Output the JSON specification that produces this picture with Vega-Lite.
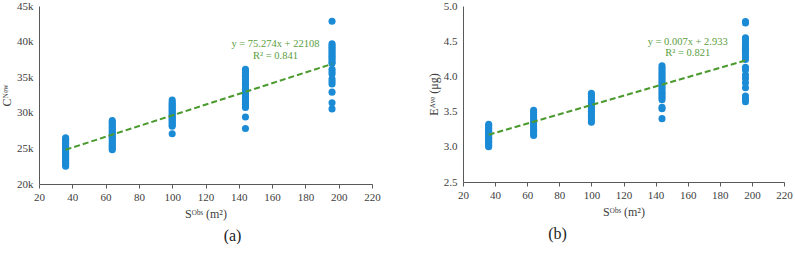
{
  "$schema": "https://vega.github.io/schema/vega-lite/v6.json",
  "padding": {"left": 0, "top": 0, "right": 0, "bottom": 0},
  "bounds": "flush",
  "spacing": 91,
  "config": {
    "font": "Liberation Serif",
    "view": {"stroke": null},
    "axis": {"grid": false, "domainColor": "#595959", "tickColor": "#595959", "labelColor": "#404040", "titleColor": "#404040", "labelFont": "Liberation Serif", "titleFont": "Liberation Serif", "titleFontWeight": "normal", "labelOverlap": false},
    "title": {"font": "Liberation Serif", "fontSize": 16, "fontWeight": "normal", "color": "#222222"}
  },
  "datasets": {
    "a": [
      {"x":36,"y":22500},{"x":36,"y":22700},{"x":36,"y":22900},{"x":36,"y":23100},{"x":36,"y":23300},{"x":36,"y":23500},{"x":36,"y":23700},{"x":36,"y":23900},{"x":36,"y":24100},{"x":36,"y":24300},{"x":36,"y":24500},{"x":36,"y":24700},{"x":36,"y":24900},{"x":36,"y":25100},{"x":36,"y":25300},{"x":36,"y":25500},{"x":36,"y":25700},{"x":36,"y":25900},{"x":36,"y":26100},{"x":36,"y":26300},{"x":36,"y":26500},
      {"x":64,"y":24800},{"x":64,"y":25000},{"x":64,"y":25250},{"x":64,"y":25450},{"x":64,"y":25700},{"x":64,"y":25900},{"x":64,"y":26100},{"x":64,"y":26350},{"x":64,"y":26550},{"x":64,"y":26750},{"x":64,"y":27000},{"x":64,"y":27200},{"x":64,"y":27400},{"x":64,"y":27650},{"x":64,"y":27850},{"x":64,"y":28050},{"x":64,"y":28300},{"x":64,"y":28500},{"x":64,"y":28700},{"x":64,"y":28900},
      {"x":100,"y":27050},{"x":100,"y":28100},{"x":100,"y":28300},{"x":100,"y":28500},{"x":100,"y":28700},{"x":100,"y":28900},{"x":100,"y":29100},{"x":100,"y":29300},{"x":100,"y":29500},{"x":100,"y":29700},{"x":100,"y":29900},{"x":100,"y":30100},{"x":100,"y":30300},{"x":100,"y":30500},{"x":100,"y":30700},{"x":100,"y":30900},{"x":100,"y":31100},{"x":100,"y":31300},{"x":100,"y":31500},{"x":100,"y":31800},
      {"x":144,"y":27800},{"x":144,"y":29400},{"x":144,"y":30750},{"x":144,"y":30950},{"x":144,"y":31150},{"x":144,"y":31400},{"x":144,"y":31650},{"x":144,"y":31900},{"x":144,"y":32100},{"x":144,"y":32350},{"x":144,"y":32600},{"x":144,"y":32800},{"x":144,"y":33050},{"x":144,"y":33300},{"x":144,"y":33500},{"x":144,"y":33750},{"x":144,"y":34000},{"x":144,"y":34200},{"x":144,"y":34450},{"x":144,"y":34700},{"x":144,"y":34900},{"x":144,"y":35150},{"x":144,"y":35400},{"x":144,"y":35650},{"x":144,"y":35900},{"x":144,"y":36100},
      {"x":196,"y":42850},{"x":196,"y":39700},{"x":196,"y":39450},{"x":196,"y":39200},{"x":196,"y":38950},{"x":196,"y":38700},{"x":196,"y":38450},{"x":196,"y":38200},{"x":196,"y":37950},{"x":196,"y":37700},{"x":196,"y":37450},{"x":196,"y":37150},{"x":196,"y":36950},{"x":196,"y":36100},{"x":196,"y":35750},{"x":196,"y":35450},{"x":196,"y":34750},{"x":196,"y":34400},{"x":196,"y":34050},{"x":196,"y":32900},{"x":196,"y":31400},{"x":196,"y":30550}
    ],
    "b": [
      {"x":36,"y":3.00},{"x":36,"y":3.02},{"x":36,"y":3.04},{"x":36,"y":3.06},{"x":36,"y":3.08},{"x":36,"y":3.10},{"x":36,"y":3.12},{"x":36,"y":3.14},{"x":36,"y":3.16},{"x":36,"y":3.18},{"x":36,"y":3.20},{"x":36,"y":3.22},{"x":36,"y":3.24},{"x":36,"y":3.26},{"x":36,"y":3.28},{"x":36,"y":3.30},{"x":36,"y":3.32},
      {"x":64,"y":3.16},{"x":64,"y":3.19},{"x":64,"y":3.22},{"x":64,"y":3.25},{"x":64,"y":3.28},{"x":64,"y":3.31},{"x":64,"y":3.34},{"x":64,"y":3.37},{"x":64,"y":3.40},{"x":64,"y":3.43},{"x":64,"y":3.46},{"x":64,"y":3.49},{"x":64,"y":3.52},
      {"x":100,"y":3.35},{"x":100,"y":3.38},{"x":100,"y":3.41},{"x":100,"y":3.44},{"x":100,"y":3.47},{"x":100,"y":3.50},{"x":100,"y":3.53},{"x":100,"y":3.56},{"x":100,"y":3.59},{"x":100,"y":3.62},{"x":100,"y":3.65},{"x":100,"y":3.68},{"x":100,"y":3.71},{"x":100,"y":3.74},{"x":100,"y":3.76},
      {"x":144,"y":3.40},{"x":144,"y":3.54},{"x":144,"y":3.56},{"x":144,"y":3.67},{"x":144,"y":3.70},{"x":144,"y":3.73},{"x":144,"y":3.76},{"x":144,"y":3.79},{"x":144,"y":3.82},{"x":144,"y":3.85},{"x":144,"y":3.88},{"x":144,"y":3.91},{"x":144,"y":3.94},{"x":144,"y":3.97},{"x":144,"y":4.00},{"x":144,"y":4.03},{"x":144,"y":4.06},{"x":144,"y":4.09},{"x":144,"y":4.12},{"x":144,"y":4.15},
      {"x":196,"y":4.78},{"x":196,"y":4.76},{"x":196,"y":4.55},{"x":196,"y":4.52},{"x":196,"y":4.49},{"x":196,"y":4.46},{"x":196,"y":4.43},{"x":196,"y":4.40},{"x":196,"y":4.37},{"x":196,"y":4.34},{"x":196,"y":4.31},{"x":196,"y":4.28},{"x":196,"y":4.24},{"x":196,"y":4.13},{"x":196,"y":4.09},{"x":196,"y":4.02},{"x":196,"y":3.97},{"x":196,"y":3.91},{"x":196,"y":3.84},{"x":196,"y":3.72},{"x":196,"y":3.68},{"x":196,"y":3.64}
    ],
    "trendA": [{"x":36,"y":24818},{"x":196,"y":36862}],
    "trendB": [{"x":36,"y":3.172},{"x":196,"y":4.227}],
    "labelA": [{"x":162,"y":39650,"t":"y = 75.274x + 22108"},{"x":162,"y":37980,"t":"R² = 0.841"}],
    "labelB": [{"x":160,"y":4.49,"t":"y = 0.007x + 2.933"},{"x":160,"y":4.33,"t":"R² = 0.821"}]
  },
  "hconcat": [
    {
      "width": 333,
      "height": 178,
      "title": {"text": "(a)", "orient": "bottom", "anchor": "middle", "dx": 27, "offset": 9, "font": "Liberation Serif", "fontSize": 16},
      "encoding": {
        "x": {"field": "x", "type": "quantitative", "scale": {"domain": [20, 220], "nice": false},
              "axis": {"values": [20,40,60,80,100,120,140,160,180,200,220], "title": "Sᴼᵇˢ (m²)", "labelOverlap": false, "labelFlush": false, "labelFont": "Liberation Serif", "labelFontSize": 11, "titleFont": "Liberation Serif", "titleFontSize": 12, "titleFontWeight": "normal", "tickSize": 4, "labelPadding": 3, "titlePadding": 6, "grid": false}},
        "y": {"field": "y", "type": "quantitative", "scale": {"domain": [20000, 45000], "nice": false, "zero": false},
              "axis": {"values": [20000,25000,30000,35000,40000,45000], "labelExpr": "datum.value/1000 + 'k'", "title": "Cᴺᵉʷ", "labelOverlap": false, "labelFlush": false, "labelFont": "Liberation Serif", "labelFontSize": 11, "titleFont": "Liberation Serif", "titleFontSize": 12, "titleFontWeight": "normal", "ticks": false, "labelPadding": 6, "titlePadding": 3, "grid": false}}
      },
      "layer": [
        {
          "data": {"name": "a"},
          "mark": {"type": "circle", "size": 50, "opacity": 1, "color": "#1b8bd6"}
        },
        {
          "data": {"name": "trendA"},
          "mark": {"type": "line", "color": "#4a9a2e", "strokeWidth": 2, "strokeDash": [6, 3]}
        },
        {
          "data": {"name": "labelA"},
          "mark": {"type": "text", "color": "#5a9e3c", "fontSize": 10.5, "align": "center", "baseline": "middle", "font": "Liberation Serif"},
          "encoding": {"text": {"field": "t"}}
        }
      ]
    },
    {
      "width": 321,
      "height": 176,
      "title": {"text": "(b)", "orient": "bottom", "anchor": "middle", "dx": -66, "offset": 9, "font": "Liberation Serif", "fontSize": 16},
      "encoding": {
        "x": {"field": "x", "type": "quantitative", "scale": {"domain": [20, 220], "nice": false},
              "axis": {"values": [20,40,60,80,100,120,140,160,180,200,220], "title": "Sᴼᵇˢ (m²)", "labelOverlap": false, "labelFlush": false, "labelFont": "Liberation Serif", "labelFontSize": 11, "titleFont": "Liberation Serif", "titleFontSize": 12, "titleFontWeight": "normal", "tickSize": 4, "labelPadding": 3, "titlePadding": 6, "grid": false}},
        "y": {"field": "y", "type": "quantitative", "scale": {"domain": [2.5, 5.0], "nice": false, "zero": false},
              "axis": {"values": [2.5,3.0,3.5,4.0,4.5,5.0], "format": ".1f", "title": "Eᴬᵛᵉ (μg)", "labelOverlap": false, "labelFlush": false, "labelFont": "Liberation Serif", "labelFontSize": 11, "titleFont": "Liberation Serif", "titleFontSize": 12, "titleFontWeight": "normal", "ticks": false, "labelPadding": 6, "titlePadding": 3, "grid": false}}
      },
      "layer": [
        {
          "data": {"name": "b"},
          "mark": {"type": "circle", "size": 50, "opacity": 1, "color": "#1b8bd6"}
        },
        {
          "data": {"name": "trendB"},
          "mark": {"type": "line", "color": "#4a9a2e", "strokeWidth": 2, "strokeDash": [6, 3]}
        },
        {
          "data": {"name": "labelB"},
          "mark": {"type": "text", "color": "#5a9e3c", "fontSize": 10.5, "align": "center", "baseline": "middle", "font": "Liberation Serif"},
          "encoding": {"text": {"field": "t"}}
        }
      ]
    }
  ]
}
